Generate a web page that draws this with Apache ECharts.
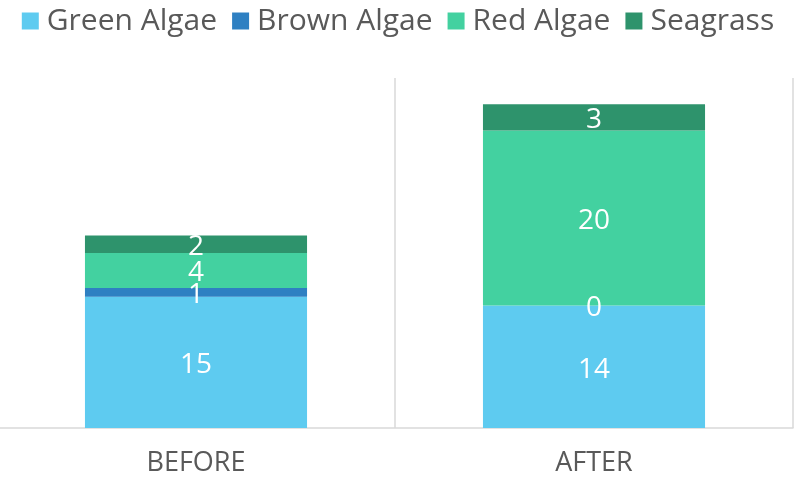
<!DOCTYPE html>
<html>
<head>
<meta charset="utf-8">
<script src="https://cdn.jsdelivr.net/npm/echarts@6/dist/echarts.min.js"></script>
<style>
  html, body { margin: 0; padding: 0; background: #fff; overflow: hidden; }
  #wrap { width: 799px; height: 478px; overflow: hidden; position: relative; }
  /* the plot starts just left of the page edge so the first boundary line is clipped */
  #chart { width: 802px; height: 478px; position: absolute; left: -3px; top: 0; }
</style>
</head>
<body>
<div id="wrap"><div id="chart"></div></div>
<script>
// Survey periods and vegetation cover per group
const periods = ['BEFORE', 'AFTER'];
const greenAlgae = [15, 14];
const brownAlgae = [1, 0];
const redAlgae = [4, 20];
const seagrass = [2, 3];

const seriesNames = ['Green Algae', 'Brown Algae', 'Red Algae', 'Seagrass'];
const seriesValues = [greenAlgae, brownAlgae, redAlgae, seagrass];
const seriesColors = ['#5ECBF0', '#2E80C2', '#43D1A0', '#2E936C'];

const FONT = 'Open Sans';

const chart = echarts.init(document.getElementById('chart'), null, { renderer: 'canvas' });

chart.setOption({
  animation: false,
  textStyle: { fontFamily: FONT },
  legend: {
    top: 1,
    left: 'center',
    itemWidth: 17,
    itemHeight: 17,
    itemGap: 15,
    icon: 'rect',
    textStyle: { fontSize: 30, color: '#595959', fontFamily: FONT, padding: [0, 0, 0, 3] },
    data: seriesNames
  },
  grid: { left: 0, right: 6, top: 78, bottom: 50, containLabel: false },
  xAxis: {
    type: 'category',
    data: periods,
    axisTick: { show: false },
    axisLine: { lineStyle: { color: '#D9D9D9', width: 1.5 } },
    splitLine: { show: true, lineStyle: { color: '#D9D9D9', width: 1.5 } },
    axisLabel: { fontSize: 27, color: '#595959', margin: 22, fontFamily: FONT }
  },
  yAxis: {
    type: 'value',
    min: 0,
    max: 40,
    show: false,
    splitLine: { show: false }
  },
  series: seriesNames.map((name, i) => ({
    name: name,
    type: 'bar',
    stack: 'cover',
    barWidth: '55.8%',
    data: seriesValues[i],
    itemStyle: { color: seriesColors[i] },
    label: {
      show: true,
      position: 'inside',
      offset: [0, 3],
      color: '#FFFFFF',
      fontSize: 28,
      fontFamily: FONT
    }
  }))
});
</script>
</body>
</html>
